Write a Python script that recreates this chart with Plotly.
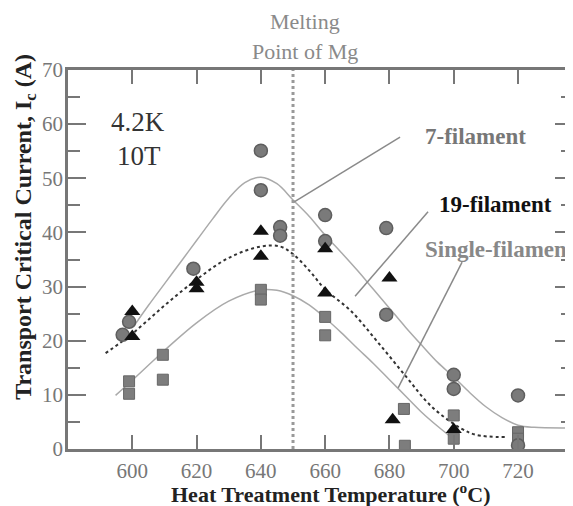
import plotly.graph_objects as go

# ---------------- data ----------------
circle_T = [597, 599, 619, 640, 640, 646, 646, 660, 660, 679, 679, 700, 700, 720, 720]
circle_V = [21.1, 23.5, 33.3, 55.1, 47.8, 41.0, 39.4, 43.2, 38.4, 40.8, 24.8, 13.7, 11.1, 9.9, 0.7]

tri_T = [600, 600, 620, 620, 640, 640, 660, 660, 680, 681, 700]
tri_V = [25.4, 20.8, 30.8, 29.6, 40.2, 35.6, 37.0, 28.8, 31.6, 5.4, 3.6]

sq_T = [599, 599, 609.5, 609.5, 640, 640, 660, 660, 684.5, 684.8, 700, 700, 720, 720]
sq_V = [12.5, 10.2, 17.4, 12.8, 29.4, 27.6, 24.4, 21.0, 7.4, 0.6, 6.2, 1.9, 3.1, 1.9]

fit7_T = [600.5, 605, 610, 615, 620, 625, 630, 635, 640, 645, 650, 655, 660, 665, 670,
          675, 680, 685, 690, 695, 700, 705, 710, 715, 720, 725, 737]
fit7_V = [22.7, 26.5, 30.5, 34.5, 38.5, 42.5, 46.3, 49.2, 50.2, 49.0, 46.0, 43.0, 39.5,
          36.3, 33.0, 29.5, 26.0, 22.5, 19.2, 16.0, 13.3, 10.4, 7.8, 5.8, 4.4, 4.0, 3.9]

fit19_T = [591.7, 600, 610, 620, 630, 640, 646, 650, 655, 660, 668, 676, 685, 693, 702, 707, 716]
fit19_V = [17.7, 21.3, 26.5, 31.3, 35.3, 37.4, 37.4, 36.0, 33.0, 29.5, 25.5, 20.0, 13.5, 7.9, 3.9, 2.6, 2.2]

fit1_T = [594.8, 600, 610, 620, 630, 640, 645, 650, 655, 660, 665, 670, 675, 680, 685, 690, 695, 700]
fit1_V = [9.9, 12.7, 18.2, 23.3, 27.3, 29.4, 29.3, 28.3, 26.6, 24.2, 21.5, 18.6, 15.8, 12.8, 9.8, 6.8, 4.2, 1.8]

lead7_T, lead7_V = [683.3, 650.0], [57.6, 45.5]
lead19_T, lead19_V = [692.0, 669.3], [43.8, 28.2]
lead1_T, lead1_V = [702.6, 682.7], [34.5, 11.3]

melt_T = 650
x_ticks = [600, 620, 640, 660, 680, 700, 720]

# ---------------- layout helpers ----------------
# the page body has an 8px margin, so the figure is drawn 8px in from the top-left
OFF = 8
W, H = 573 - OFF, 506 - OFF
L, R, T, B = 68 - OFF, 0, 70 - OFF, 56.5
PW, PH = W - L - R, H - T - B


def px(x):
    return (x - OFF - L) / PW


def py(y):
    return (H - B - (y - OFF)) / PH


SERIF = "Liberation Serif, Times New Roman, serif"
AX = "#777777"

fig = go.Figure()

# fit curves
fig.add_trace(go.Scatter(x=fit7_T, y=fit7_V, mode="lines", line=dict(color="#aaaaaa", width=1.5, shape="spline"),
                         showlegend=False, hoverinfo="skip"))
fig.add_trace(go.Scatter(x=fit1_T, y=fit1_V, mode="lines", line=dict(color="#aaaaaa", width=1.5, shape="spline"),
                         showlegend=False, hoverinfo="skip"))
fig.add_trace(go.Scatter(x=fit19_T, y=fit19_V, mode="lines",
                         line=dict(color="#333333", width=2, dash="dot", shape="spline"),
                         showlegend=False, hoverinfo="skip"))
# leader lines
for lt, lv in [(lead7_T, lead7_V), (lead19_T, lead19_V), (lead1_T, lead1_V)]:
    fig.add_trace(go.Scatter(x=lt, y=lv, mode="lines", line=dict(color="#8a8a8a", width=1.5),
                             showlegend=False, hoverinfo="skip"))

# markers
fig.add_trace(go.Scatter(x=sq_T, y=sq_V, mode="markers", name="Single-filament",
                         marker=dict(symbol="square", size=11, color="#7d7d7d",
                                     line=dict(color="#666666", width=1)), showlegend=False))
fig.add_trace(go.Scatter(x=circle_T, y=circle_V, mode="markers", name="7-filament",
                         marker=dict(symbol="circle", size=13, color="#7a7a7a",
                                     line=dict(color="#5e5e5e", width=1.5)), showlegend=False))
fig.add_trace(go.Scatter(x=tri_T, y=tri_V, mode="markers", name="19-filament",
                         marker=dict(symbol="triangle-up", size=14, color="#111111"), showlegend=False))

# dummy trace for the right-hand tick axis
fig.add_trace(go.Scatter(x=[melt_T], y=[0], yaxis="y2", mode="markers", opacity=0,
                         showlegend=False, hoverinfo="skip"))

# melting point dotted line
fig.add_shape(type="line", xref="x", yref="paper", x0=melt_T, x1=melt_T, y0=0, y1=1,
              line=dict(color="#999999", width=3, dash="dot"))

ann = [
    dict(text="Melting", x=px(305), y=py(21), size=22, color="#8a8a8a"),
    dict(text="Point of Mg", x=px(305), y=py(51), size=22, color="#8a8a8a"),
    dict(text="4.2K", x=px(138), y=py(122), size=27, color="#333333"),
    dict(text="10T", x=px(139), y=py(156), size=27, color="#333333"),
    dict(text="<b>7-filament</b>", x=px(475), y=py(137), size=23, color="#777777"),
    dict(text="<b>19-filament</b>", x=px(495), y=py(205), size=23, color="#111111"),
]
for a in ann:
    fig.add_annotation(text=a["text"], x=a["x"], y=a["y"], xref="paper", yref="paper",
                       showarrow=False, xanchor="center", yanchor="middle",
                       font=dict(family=SERIF, size=a["size"], color=a["color"]))
fig.add_annotation(text="<b>Single-filament</b>", x=px(423), y=py(250), xref="paper", yref="paper",
                   showarrow=False, xanchor="left", yanchor="middle",
                   font=dict(family=SERIF, size=23, color="#888888"))
# axis titles
fig.add_annotation(text="<b>Transport Critical Current, I<sub>c</sub> (A)</b>", x=px(25), y=py(227),
                   xref="paper", yref="paper", showarrow=False, textangle=-90,
                   xanchor="center", yanchor="middle",
                   font=dict(family=SERIF, size=24, color="#222222"))
fig.add_annotation(text="<b>Heat Treatment Temperature (<sup>o</sup>C)</b>", x=px(331), y=py(493.5),
                   xref="paper", yref="paper", showarrow=False,
                   xanchor="center", yanchor="middle",
                   font=dict(family=SERIF, size=22, color="#222222"))

fig.update_layout(
    width=W, height=H,
    margin=dict(l=L, r=R, t=T, b=B, autoexpand=False),
    paper_bgcolor="white", plot_bgcolor="white",
    xaxis=dict(range=[580, 737.1], tickvals=x_ticks, ticks="inside", ticklen=14, tickwidth=1.5,
               tickcolor=AX, showline=True, linecolor=AX, linewidth=2.5, mirror="ticks",
               showgrid=False, zeroline=False, automargin=False, ticklabelstandoff=1,
               tickfont=dict(family=SERIF, size=21, color="#777777")),
    yaxis=dict(range=[0, 70], dtick=10, ticks="inside", ticklen=18, tickwidth=1.5, tickcolor=AX,
               showline=True, linecolor=AX, linewidth=2.5, showgrid=False, zeroline=False,
               automargin=False,
               minor=dict(dtick=5, ticks="inside", ticklen=12, tickwidth=1.5, tickcolor=AX, showgrid=False),
               ticklabelstandoff=-2,
               tickfont=dict(family=SERIF, size=21, color="#777777")),
    yaxis2=dict(range=[0, 70], dtick=10, overlaying="y", side="right", ticks="inside", ticklen=18,
                tickwidth=1.5, tickcolor=AX, showline=False, showgrid=False, zeroline=False,
                showticklabels=False, automargin=False,
                minor=dict(dtick=5, ticks="inside", ticklen=12, tickwidth=1.5, tickcolor=AX, showgrid=False)),
)

fig.write_html("out.html")
